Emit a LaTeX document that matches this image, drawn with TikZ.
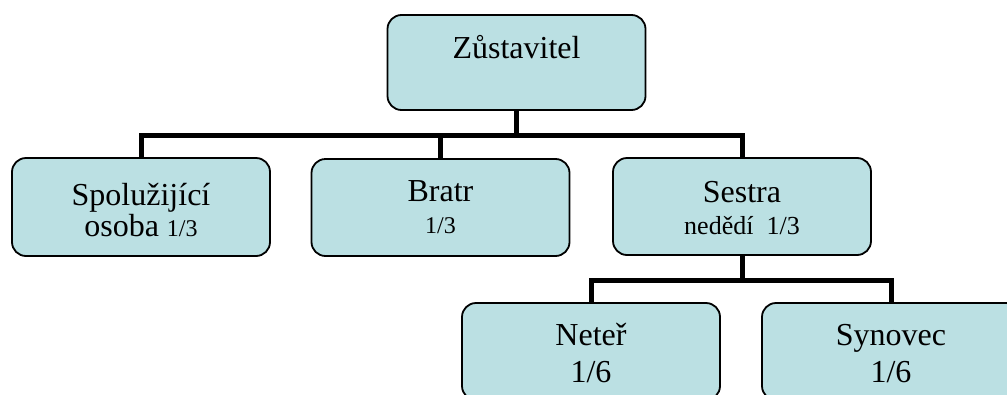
\documentclass[tikz,border=0pt]{standalone}
\usepackage{fontspec}
\setmainfont{Liberation Serif}
\definecolor{boxfill}{RGB}{187,224,227}
\newcommand{\bxtext}[4]{\parbox[c][#1pt][t]{258pt}{\centering\lineskiplimit=-100pt\fontsize{32}{#3}\selectfont\rule{0pt}{#2pt}#4}}
\newcommand{\smallpart}[2][24]{{\fontsize{#1}{#1}\selectfont #2}}
\tikzset{
  orgbox/.style={draw=black, line width=1.8pt, rounded corners=14pt, fill=boxfill, inner sep=0pt, outer sep=0pt},
  conn/.style={draw=black, line width=5pt},
}
\begin{document}
\begin{tikzpicture}[x=1pt,y=-1pt]
\useasboundingbox (0,0) rectangle (1007,394);
\clip (0,0) rectangle (1007,394);
\node[orgbox] (top) at (516.5,62.5) {\bxtext{95}{43}{32}{Zůstavitel}};
\node[orgbox] (spolu) at (141,207) {\bxtext{98}{47}{31}{Spolužijící\\osoba \smallpart{1/3}}};
\node[orgbox] (bratr) at (440.5,207.5) {\bxtext{97}{42}{32}{Bratr\\\smallpart{1/3}}};
\node[orgbox] (sestra) at (742,206.5) {\bxtext{97}{44}{32}{Sestra\\\smallpart[26]{nedědí\ \ 1/3}}};
\node[orgbox] (neter) at (591,351.5) {\bxtext{97}{42}{37}{Neteř\\1/6}};
\node[orgbox] (synovec) at (891,351.5) {\bxtext{97}{42}{37}{Synovec\\1/6}};
\draw[conn] (top.south) -- ++(0,25) -| (spolu.north);
\draw[conn] (top.south) -- ++(0,25) -| (bratr.north);
\draw[conn] (top.south) -- ++(0,25) -| (sestra.north);
\draw[conn] (sestra.south) -- ++(0,25) -| (neter.north);
\draw[conn] (sestra.south) -- ++(0,25) -| (synovec.north);
\end{tikzpicture}
\end{document}
